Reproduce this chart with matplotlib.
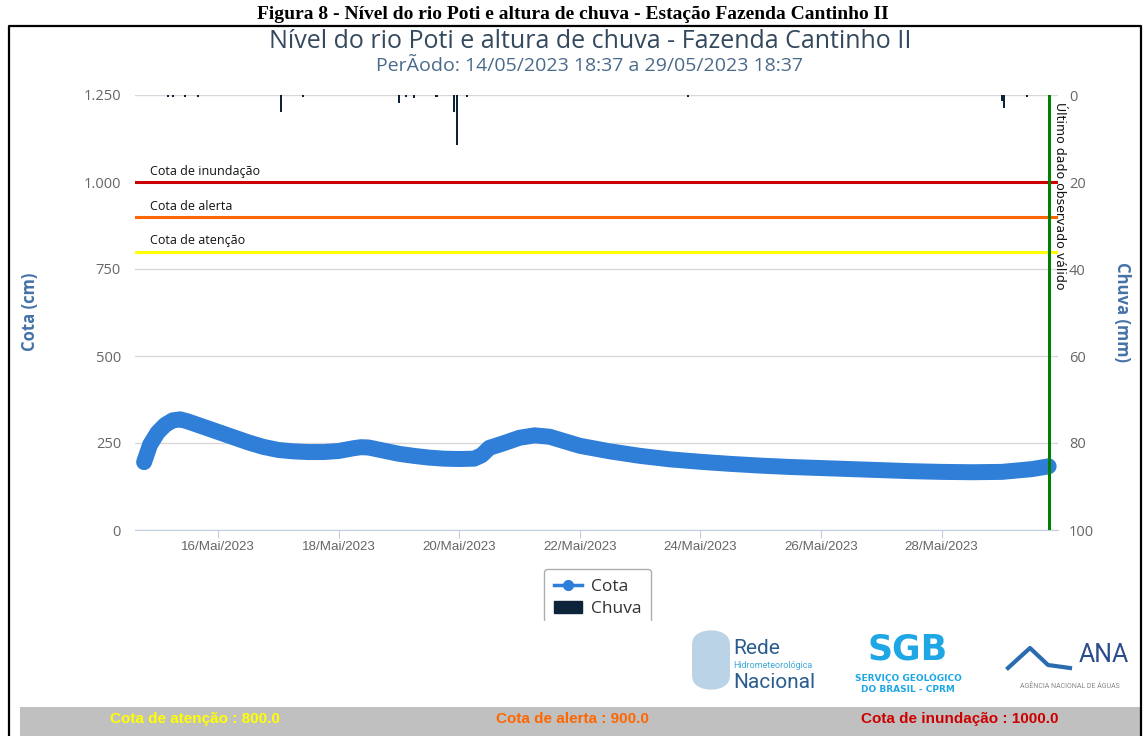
#!/usr/bin/env python3
"""Nivel do rio Poti e altura de chuva - Fazenda Cantinho II (recreated screenshot)."""
import matplotlib
matplotlib.use("Agg")
import matplotlib.pyplot as plt
import matplotlib.dates as mdates
from matplotlib.lines import Line2D
from matplotlib.patches import Patch, Rectangle, FancyBboxPatch
from matplotlib.ticker import FuncFormatter, FixedLocator
import pandas as pd

# --- data ---
cota_time = [
    "2023-05-14 18:37", "2023-05-14 21:00", "2023-05-15 00:00", "2023-05-15 03:00",
    "2023-05-15 06:00", "2023-05-15 09:00", "2023-05-15 12:00", "2023-05-15 18:00",
    "2023-05-16 00:00", "2023-05-16 06:00", "2023-05-16 12:00", "2023-05-16 18:00",
    "2023-05-17 00:00", "2023-05-17 06:00", "2023-05-17 12:00", "2023-05-17 18:00",
    "2023-05-18 00:00", "2023-05-18 06:00", "2023-05-18 09:00", "2023-05-18 12:00",
    "2023-05-18 18:00", "2023-05-19 00:00", "2023-05-19 06:00", "2023-05-19 12:00",
    "2023-05-19 18:00", "2023-05-20 00:00", "2023-05-20 06:00", "2023-05-20 09:00",
    "2023-05-20 12:00", "2023-05-20 18:00", "2023-05-21 00:00", "2023-05-21 06:00",
    "2023-05-21 12:00", "2023-05-21 18:00", "2023-05-22 00:00", "2023-05-22 12:00",
    "2023-05-23 00:00", "2023-05-23 12:00", "2023-05-24 00:00", "2023-05-24 12:00",
    "2023-05-25 00:00", "2023-05-25 12:00", "2023-05-26 00:00", "2023-05-26 12:00",
    "2023-05-27 00:00", "2023-05-27 12:00", "2023-05-28 00:00", "2023-05-28 12:00",
    "2023-05-29 00:00", "2023-05-29 12:00", "2023-05-29 18:37",
]
cota_cm = [
    195, 245, 280, 302,
    315, 318, 312, 297,
    282, 267, 252, 239,
    230, 226, 224, 224,
    227, 235, 238, 237,
    228, 219, 213, 208,
    205, 204, 205, 215,
    236, 250, 265, 272,
    268, 255, 242, 226,
    213, 203, 196, 190,
    185, 181, 178, 175,
    172, 169, 167, 166,
    167, 175, 183,
]
chuva_time = [
    "2023-05-15 04:00", "2023-05-15 06:00", "2023-05-15 11:00", "2023-05-15 16:00",
    "2023-05-17 01:00", "2023-05-17 10:00", "2023-05-19 00:00", "2023-05-19 03:00",
    "2023-05-19 06:00", "2023-05-19 15:00", "2023-05-19 22:00", "2023-05-19 23:00",
    "2023-05-20 03:00", "2023-05-23 19:00", "2023-05-29 00:00", "2023-05-29 01:00",
    "2023-05-29 10:00",
]
chuva_mm = [0.4, 0.5, 0.4, 0.5, 4.0, 0.4, 1.8, 0.4, 0.6, 0.4, 3.8, 11.4, 0.5, 0.4, 1.3, 3.0, 0.4]

cotas_ref = [("Cota de inundação", 1000, "#cc0000"),
             ("Cota de alerta", 900, "#ff6600"),
             ("Cota de atenção", 800, "#ffff00")]
meses = ["Jan", "Fev", "Mar", "Abr", "Mai", "Jun", "Jul", "Ago", "Set", "Out", "Nov", "Dez"]

titulo = "Nível do rio Poti e altura de chuva - Fazenda Cantinho II"
subtitulo = "PerÃodo: 14/05/2023 18:37 a 29/05/2023 18:37"
legenda_fig = "Figura 8 - Nível do rio Poti e altura de chuva - Estação Fazenda Cantinho II"

t_cota = pd.to_datetime(cota_time)
t_chuva = pd.to_datetime(chuva_time)
ultimo = t_cota[-1]

W, H = 1146, 736
px = lambda x: x / W
py = lambda y: 1 - y / H

fig = plt.figure(figsize=(W / 100, H / 100), dpi=100)
ax = fig.add_axes([px(135), py(530), px(1058) - px(135), py(95) - py(530)])
ax2 = ax.twinx()

GRID = "#d8d8d8"
TICK = "#666666"
BLUE = "#2f7ed8"
NAVY = "#0d233a"

# cota
ax.plot(t_cota, cota_cm, color=BLUE, lw=11.5, solid_capstyle="round",
        solid_joinstyle="round", zorder=3)
ax.set_ylim(0, 1250)
ax.set_xlim(pd.Timestamp("2023-05-14 15:00"), pd.Timestamp("2023-05-29 22:20"))
ax.yaxis.set_major_locator(FixedLocator([0, 250, 500, 750, 1000, 1250]))
ax.yaxis.set_major_formatter(FuncFormatter(lambda v, p: f"{int(v):,}".replace(",", ".")))
ax.grid(axis="y", color=GRID, lw=1)
ax.set_axisbelow(True)

# reference levels
for nome, v, cor in cotas_ref:
    ax.axhline(v, color=cor, lw=2.2, zorder=2)
    ax.annotate(nome, xy=(0.016, v), xycoords=("axes fraction", "data"),
                xytext=(0, 3), textcoords="offset points", fontsize=9,
                family="Open Sans", color="#111111", va="bottom", ha="left")

# chuva (inverted right axis)
ax2.bar(t_chuva, chuva_mm, width=0.035, color=NAVY, zorder=3)
ax2.set_ylim(100, 0)
ax2.yaxis.set_major_locator(FixedLocator([0, 20, 40, 60, 80, 100]))

# last valid datum
ax2.axvline(ultimo, color="#008000", lw=2.2, zorder=4)
ax2.annotate("Último dado observado válido", xy=(ultimo, 1.5), xycoords="data",
             xytext=(3, 0), textcoords="offset points", rotation=270,
             fontsize=9, family="DejaVu Sans", color="#111111", va="top", ha="left")

for a in (ax, ax2):
    for s in a.spines.values():
        s.set_visible(False)
ax.spines["bottom"].set_visible(True)
ax.spines["bottom"].set_color("#c0d0e0")

ax.tick_params(axis="y", length=0, pad=10, labelsize=10.5, labelcolor=TICK)
ax2.tick_params(axis="y", length=0, pad=8, labelsize=10.5, labelcolor=TICK)
for lab in ax.get_yticklabels() + ax2.get_yticklabels():
    lab.set_family("Open Sans")

ax.xaxis.set_major_locator(mdates.DayLocator(bymonthday=[16, 18, 20, 22, 24, 26, 28]))
ax.xaxis.set_major_formatter(FuncFormatter(
    lambda v, p: (lambda d: f"{d.day:02d}/{meses[d.month - 1]}/{d.year}")(mdates.num2date(v))))
ax.tick_params(axis="x", length=6, color="#c0d0e0", pad=2, labelsize=9.6, labelcolor=TICK)
for lab in ax.get_xticklabels():
    lab.set_family("Liberation Sans")

# titles / axis names
fig.text(px(590), py(42), titulo, ha="center", va="center", fontsize=18,
         family="Open Sans", color="#34495e")
fig.text(px(590), py(66), subtitulo, ha="center", va="center", fontsize=14,
         family="Open Sans", color="#4a6a8a")
fig.text(px(30), py(312), "Cota (cm)", rotation=90, ha="center", va="center",
         fontsize=12, fontweight="bold", family="Open Sans", color="#4572a7")
fig.text(px(1122), py(312), "Chuva (mm)", rotation=270, ha="center", va="center",
         fontsize=12, fontweight="bold", family="Open Sans", color="#4572a7")

# legend (box cut at the bottom like the screenshot)
handles = [Line2D([0], [0], color=BLUE, lw=2.5, marker="o", ms=7),
           Patch(facecolor=NAVY, edgecolor=NAVY)]
leg = fig.legend(handles, ["Cota", "Chuva"], loc="upper left",
                 bbox_to_anchor=(px(535), py(560)), frameon=True, fancybox=True,
                 prop={"family": "Open Sans", "size": 12.5}, handlelength=1.6,
                 handletextpad=0.5, labelspacing=0.35, borderpad=0.6)
leg.get_frame().set_edgecolor("#999999")
leg.get_frame().set_linewidth(1.0)
for t in leg.get_texts():
    t.set_color("#333333")
fig.patches.append(Rectangle((px(525), py(640)), px(145), py(621) - py(640),
                             transform=fig.transFigure, facecolor="white",
                             edgecolor="none", zorder=10))

# logos approximated as text
fig.text(px(733), py(648), "Rede", fontsize=15, family="Roboto", color="#2a5d8f",
         va="center", ha="left")
fig.text(px(733), py(665), "Hidrometeorológica", fontsize=6.5, family="Roboto",
         color="#3fa9d8", va="center", ha="left")
fig.text(px(733), py(683), "Nacional", fontsize=15, family="Roboto", color="#2a5d8f",
         va="center", ha="left")
fig.patches.append(FancyBboxPatch((px(692), py(690)), px(38), py(630) - py(690),
                                  boxstyle="round,pad=0,rounding_size=0.02",
                                  transform=fig.transFigure, facecolor="#a9c9e0",
                                  edgecolor="none", alpha=0.8))
fig.text(px(908), py(650), "SGB", fontsize=25, fontweight="bold", family="DejaVu Sans",
         color="#1ea7e4", va="center", ha="center")
fig.text(px(908), py(678), "SERVIÇO GEOLÓGICO", fontsize=6.5, fontweight="bold",
         family="DejaVu Sans", color="#1ea7e4", va="center", ha="center")
fig.text(px(908), py(689), "DO BRASIL - CPRM", fontsize=6.5, fontweight="bold",
         family="DejaVu Sans", color="#1ea7e4", va="center", ha="center")
fig.text(px(1104), py(655), "ANA", fontsize=18, family="Roboto", color="#2b4c8c",
         va="center", ha="center")
fig.text(px(1070), py(687), "AGÊNCIA NACIONAL DE ÁGUAS", fontsize=5, family="Roboto",
         color="#888888", va="center", ha="center")
fig.lines.append(Line2D([px(1008), px(1030), px(1048), px(1070)],
                        [py(668), py(648), py(665), py(668)],
                        transform=fig.transFigure, color="#2b6cb0", lw=3))

# bottom status bar
fig.patches.append(Rectangle((px(20), py(736)), px(1120), py(707) - py(736),
                             transform=fig.transFigure, facecolor="#c0c0c0",
                             edgecolor="none"))
for txt, x, cor in [("Cota de atenção : 800.0", 195, "#ffff00"),
                    ("Cota de alerta : 900.0", 572, "#ff6600"),
                    ("Cota de inundação : 1000.0", 960, "#cc0000")]:
    fig.text(px(x), py(719), txt, fontsize=11, fontweight="bold", family="Liberation Sans",
             color=cor, ha="center", va="center")

# page frame and caption above it
fig.lines.append(Line2D([px(9), px(9), px(1141), px(1141)], [py(736), py(26), py(26), py(736)],
                        transform=fig.transFigure, color="black", lw=1.6))
fig.text(px(573), py(19), legenda_fig, fontsize=14, fontweight="bold",
         family="Liberation Serif", color="black", ha="center", va="baseline")

fig.savefig("out.png", dpi=100)
